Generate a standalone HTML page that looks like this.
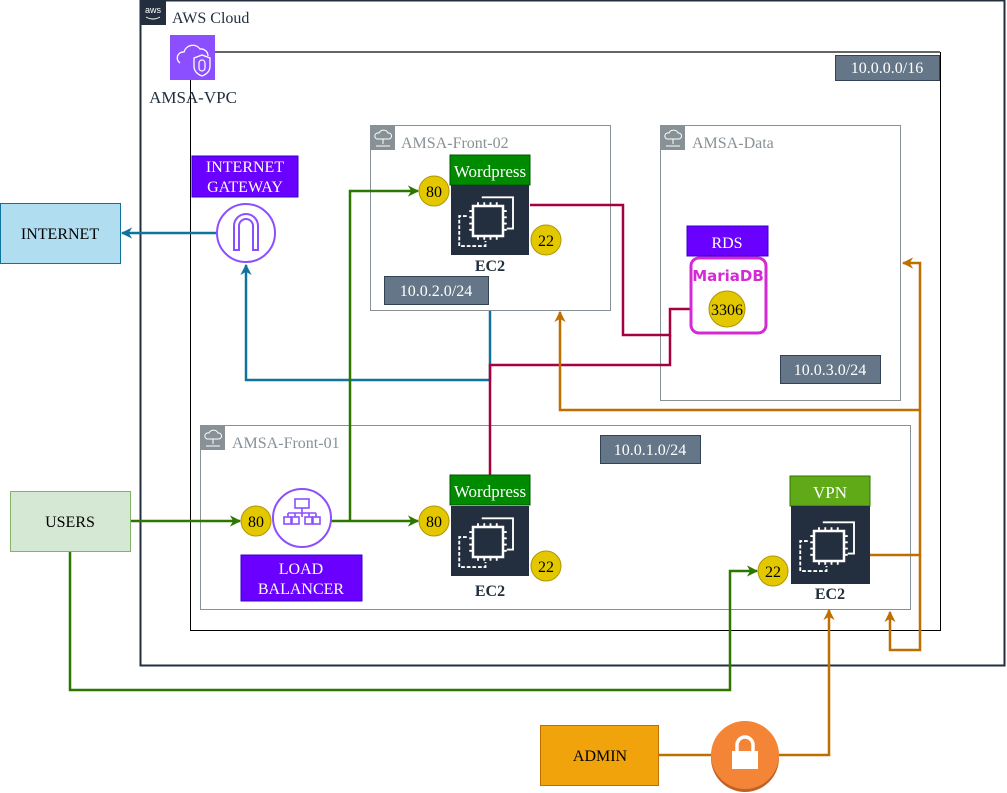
<!DOCTYPE html>
<html><head><meta charset="utf-8"><style>
html,body{margin:0;padding:0;background:#fff;}
svg{display:block;font-family:"Liberation Serif",serif;}
</style></head><body>
<svg width="1007" height="793" viewBox="0 0 1007 793" xmlns="http://www.w3.org/2000/svg">
<defs>
<marker id="ab" viewBox="0 0 10 10" refX="9" refY="5" markerWidth="4.5" markerHeight="4.5" orient="auto-start-reverse"><path d="M0,0 L10,5 L0,10 L3,5 z" fill="#10739E"/></marker>
<marker id="ag" viewBox="0 0 10 10" refX="9" refY="5" markerWidth="4.5" markerHeight="4.5" orient="auto"><path d="M0,0 L10,5 L0,10 L3,5 z" fill="#2D7600"/></marker>
<marker id="ar" viewBox="0 0 10 10" refX="9" refY="5" markerWidth="4.5" markerHeight="4.5" orient="auto"><path d="M0,0 L10,5 L0,10 L3,5 z" fill="#A50040"/></marker>
<marker id="ao" viewBox="0 0 10 10" refX="9" refY="5" markerWidth="4.5" markerHeight="4.5" orient="auto"><path d="M0,0 L10,5 L0,10 L3,5 z" fill="#BD7000"/></marker>
<g id="chip0">
<rect x="-12" y="-12" width="24" height="24" fill="none" stroke="#fff" stroke-width="2"/>
<path d="M-8,-12v-3M-3,-12v-3M2,-12v-3M7,-12v-3M-8,12v3M-3,12v3M2,12v3M7,12v3M-12,-8h-3M-12,-3h-3M-12,2h-3M-12,7h-3M12,-8h3M12,-3h3M12,2h3M12,7h3" stroke="#fff" stroke-width="1.5"/>
<path d="M-5,-19h25v25h-5" fill="none" stroke="#fff" stroke-width="1.5"/>
<path d="M-17,-4h-6v24h21v-4" fill="none" stroke="#fff" stroke-width="1.5" stroke-dasharray="3,1.5"/>
</g>
<g id="chip"><use href="#chip0" transform="scale(1.25)"/></g>
</defs>

<!-- AWS Cloud -->
<rect x="140.5" y="0.5" width="864" height="665" fill="none" stroke="#232F3E" stroke-width="2"/>
<rect x="140" y="0" width="26" height="25" fill="#232F3E"/>
<text x="153" y="13" font-family="Liberation Sans,sans-serif" font-size="9" fill="#fff" text-anchor="middle">aws</text>
<path d="M146,17 q7,4 14,0" stroke="#fff" fill="none" stroke-width="1"/>
<text x="172" y="23" font-size="16" fill="#232F3E">AWS Cloud</text>

<!-- VPC -->
<rect x="190.5" y="52.5" width="750" height="578" fill="none" stroke="#000" stroke-width="1"/>
<line x1="215" y1="52" x2="940" y2="52" stroke="#666" stroke-width="2"/>
<rect x="170" y="35" width="45" height="45" fill="#8C4FFF"/>
<path d="M180,63 a6,6 0 0 1 4,-11 a9,9 0 0 1 16,-3 a7,7 0 0 1 8,7" stroke="#fff" fill="none" stroke-width="1.3"/>
<path d="M194,58 l8,-3 l8,3 v8 q0,7 -8,10 q-8,-3 -8,-10z" stroke="#fff" fill="none" stroke-width="1.3"/>
<rect x="199" y="60" width="6" height="11" rx="3" stroke="#fff" fill="none" stroke-width="1.2"/>
<line x1="190.5" y1="80" x2="190.5" y2="631" stroke="#000"/>
<text x="193" y="103" font-size="17" fill="#232F3E" text-anchor="middle">AMSA-VPC</text>
<rect x="835.5" y="55.5" width="104" height="25" fill="#647687" stroke="#314354"/>
<text x="887" y="73" font-size="16" fill="#fff" text-anchor="middle">10.0.0.0/16</text>

<!-- Front-02 -->
<rect x="370.5" y="125.5" width="240" height="185" fill="#fff" stroke="#879196"/>
<rect x="370" y="125" width="25" height="25" fill="#879196"/>
<path d="M377,139 a3,3 0 0 1 2,-6 a5,5 0 0 1 9,0 a3,3 0 0 1 1,6z M383,139v5 M376,146h14" stroke="#fff" fill="none" stroke-width="1"/>
<text x="401" y="148" font-size="16" fill="#879196">AMSA-Front-02</text>
<rect x="384.5" y="276.5" width="104" height="28" fill="#647687" stroke="#314354"/>
<text x="436" y="296" font-size="16" fill="#fff" text-anchor="middle">10.0.2.0/24</text>

<!-- AMSA-Data -->
<rect x="660.5" y="125.5" width="240" height="275" fill="#fff" stroke="#879196"/>
<rect x="660" y="125" width="25" height="25" fill="#879196"/>
<path d="M667,139 a3,3 0 0 1 2,-6 a5,5 0 0 1 9,0 a3,3 0 0 1 1,6z M673,139v5 M666,146h14" stroke="#fff" fill="none" stroke-width="1"/>
<text x="692" y="148" font-size="16" fill="#879196">AMSA-Data</text>
<rect x="780.5" y="355.5" width="100" height="28" fill="#647687" stroke="#314354"/>
<text x="830" y="375" font-size="16" fill="#fff" text-anchor="middle">10.0.3.0/24</text>

<!-- Front-01 -->
<rect x="200.5" y="425.5" width="710" height="184" fill="#fff" stroke="#879196"/>
<rect x="200" y="425" width="25" height="25" fill="#879196"/>
<path d="M207,439 a3,3 0 0 1 2,-6 a5,5 0 0 1 9,0 a3,3 0 0 1 1,6z M213,439v5 M206,446h14" stroke="#fff" fill="none" stroke-width="1"/>
<text x="232" y="448" font-size="16" fill="#879196">AMSA-Front-01</text>
<rect x="600.5" y="435.5" width="100" height="28" fill="#647687" stroke="#314354"/>
<text x="650" y="455" font-size="16" fill="#fff" text-anchor="middle">10.0.1.0/24</text>

<!-- Connectors: blue -->
<path d="M490,311 V380 H246 V265" fill="none" stroke="#10739E" stroke-width="2.5" marker-end="url(#ab)"/>
<path d="M217,233 H122" fill="none" stroke="#10739E" stroke-width="2.5" marker-end="url(#ab)"/>

<!-- red -->
<path d="M530,205 H623 V335 H670 V309 H707" fill="none" stroke="#A50040" stroke-width="2.5" marker-end="url(#ar)"/>
<path d="M490,475 V365 H670 V335" fill="none" stroke="#A50040" stroke-width="2.5"/>

<!-- green -->
<path d="M130,521 H240" fill="none" stroke="#2D7600" stroke-width="2.5" marker-end="url(#ag)"/>
<path d="M331,521 H418" fill="none" stroke="#2D7600" stroke-width="2.5" marker-end="url(#ag)"/>
<path d="M350,521 V191 H418" fill="none" stroke="#2D7600" stroke-width="2.5" marker-end="url(#ag)"/>
<path d="M70,551 V690 H730 V571 H757" fill="none" stroke="#2D7600" stroke-width="2.5" marker-end="url(#ag)"/>

<!-- orange -->
<path d="M870,555 H920 V263 H903" fill="none" stroke="#BD7000" stroke-width="2.5" marker-end="url(#ao)"/>
<path d="M920,410 H560 V312" fill="none" stroke="#BD7000" stroke-width="2.5" marker-end="url(#ao)"/>
<path d="M920,555 V650 H890 V612" fill="none" stroke="#BD7000" stroke-width="2.5" marker-end="url(#ao)"/>
<path d="M658,755 H712 M778,755 H829 V610" fill="none" stroke="#BD7000" stroke-width="2.5" marker-end="url(#ao)"/>

<!-- Internet -->
<rect x="0.5" y="203.5" width="120" height="60" fill="#B1DDF0" stroke="#10739E"/>
<text x="60" y="239" font-size="16" fill="#000" text-anchor="middle">INTERNET</text>

<!-- IGW -->
<rect x="192" y="156" width="106" height="41" fill="#6A00FF" stroke="#3700CC"/>
<text x="245" y="172" font-size="16" fill="#fff" text-anchor="middle">INTERNET</text>
<text x="245" y="192" font-size="16" fill="#fff" text-anchor="middle">GATEWAY</text>
<circle cx="246" cy="233" r="29" fill="#fff" stroke="#8C4FFF" stroke-width="2"/>
<path d="M234,250 V226 a12,12 0 0 1 24,0 V250 H253 V226 a7,7 0 0 0 -14,0 V250z" fill="none" stroke="#8C4FFF" stroke-width="2"/>

<!-- Wordpress top -->
<rect x="450" y="155" width="80" height="30" fill="#008A00" stroke="#005700"/>
<text x="490" y="177" font-size="17" fill="#fff" text-anchor="middle">Wordpress</text>
<rect x="451" y="185" width="78" height="70" fill="#232F3E"/>
<use href="#chip" x="488" y="221"/>
<text x="490" y="271" font-size="16" font-weight="bold" fill="#232F3E" text-anchor="middle">EC2</text>
<circle cx="434" cy="191" r="15" fill="#E3C800" stroke="#B09500"/>
<text x="434" y="197" font-size="16" text-anchor="middle">80</text>
<circle cx="546" cy="240" r="15" fill="#E3C800" stroke="#B09500"/>
<text x="546" y="246" font-size="16" text-anchor="middle">22</text>

<!-- RDS -->
<rect x="687" y="226" width="81" height="30" fill="#6A00FF" stroke="#3700CC"/>
<text x="727" y="248" font-size="16" fill="#fff" text-anchor="middle">RDS</text>
<rect x="691" y="258" width="75" height="75" rx="8" fill="#fff" stroke="#D42AD4" stroke-width="3"/>
<text x="728" y="281" font-family="DejaVu Sans,sans-serif" font-size="15" font-weight="bold" fill="#D42AD4" text-anchor="middle">MariaDB</text>
<circle cx="727" cy="309" r="18" fill="#E3C800" stroke="#B09500"/>
<text x="727" y="315" font-size="16" text-anchor="middle">3306</text>

<!-- Users -->
<rect x="10.5" y="491.5" width="120" height="60" fill="#D5E8D4" stroke="#82B366"/>
<text x="70" y="527" font-size="16" text-anchor="middle">USERS</text>

<!-- LB -->
<circle cx="256" cy="521" r="15" fill="#E3C800" stroke="#B09500"/>
<text x="256" y="527" font-size="16" text-anchor="middle">80</text>
<circle cx="302" cy="518" r="29" fill="#fff" stroke="#8C4FFF" stroke-width="2"/>
<g stroke="#8C4FFF" fill="none" stroke-width="1.6">
<rect x="295" y="499" width="14" height="9"/>
<path d="M302,508v5 M288,513h28 M288,513v4 M302,513v4 M316,513v4 M295,513v4 M309,513v4"/>
<rect x="284" y="517" width="7" height="7"/><rect x="292" y="517" width="7" height="7"/><rect x="305" y="517" width="7" height="7"/><rect x="313" y="517" width="7" height="7"/>
</g>
<rect x="241" y="555" width="121" height="46" fill="#6A00FF" stroke="#3700CC"/>
<text x="301" y="574" font-size="16" fill="#fff" text-anchor="middle">LOAD</text>
<text x="301" y="594" font-size="16" fill="#fff" text-anchor="middle">BALANCER</text>

<!-- Wordpress bottom -->
<rect x="450" y="475" width="80" height="30" fill="#008A00" stroke="#005700"/>
<text x="490" y="497" font-size="17" fill="#fff" text-anchor="middle">Wordpress</text>
<rect x="451" y="506" width="78" height="70" fill="#232F3E"/>
<use href="#chip" x="488" y="542"/>
<text x="490" y="596" font-size="16" font-weight="bold" fill="#232F3E" text-anchor="middle">EC2</text>
<circle cx="434" cy="521" r="15" fill="#E3C800" stroke="#B09500"/>
<text x="434" y="527" font-size="16" text-anchor="middle">80</text>
<circle cx="546" cy="566" r="15" fill="#E3C800" stroke="#B09500"/>
<text x="546" y="572" font-size="16" text-anchor="middle">22</text>

<!-- VPN -->
<rect x="790" y="476" width="80" height="30" fill="#60A917" stroke="#2D7600"/>
<text x="830" y="498" font-size="17" fill="#fff" text-anchor="middle">VPN</text>
<rect x="791" y="506" width="79" height="78" fill="#232F3E"/>
<use href="#chip" x="829" y="546"/>
<text x="830" y="599" font-size="16" font-weight="bold" fill="#232F3E" text-anchor="middle">EC2</text>
<circle cx="773" cy="571" r="15" fill="#E3C800" stroke="#B09500"/>
<text x="773" y="577" font-size="16" text-anchor="middle">22</text>

<!-- Admin -->
<rect x="540.5" y="725.5" width="118" height="60" fill="#F0A30A" stroke="#BD7000"/>
<text x="600" y="761" font-size="16" text-anchor="middle">ADMIN</text>
<circle cx="745" cy="758" r="34" fill="#C0602A"/>
<circle cx="745" cy="755" r="34" fill="#F58536"/>
<path d="M737,752 v-7 a8,8 0 0 1 16,0 v7" fill="none" stroke="#fff" stroke-width="3.5"/>
<rect x="732" y="751" width="26" height="18" fill="#fff"/>
</svg>
</body></html>
